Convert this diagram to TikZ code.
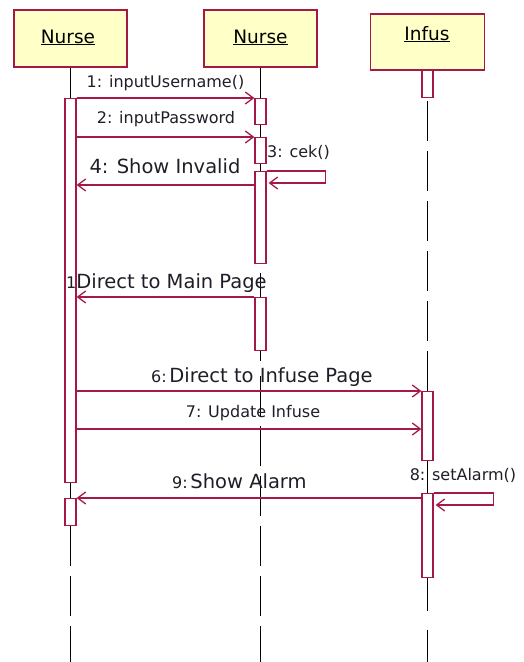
\documentclass[tikz,border=0pt]{standalone}
\usepackage{fontspec}
\setmainfont{DejaVu Sans}
\usepackage{tikz}
\usetikzlibrary{arrows.meta}

\definecolor{umlred}{RGB}{165,25,70}
\definecolor{umlyellow}{RGB}{255,255,200}
\definecolor{msgtext}{RGB}{30,30,40}

\newcommand{\smalltxt}{\fontsize{16}{18}\selectfont}
\newcommand{\bigtxt}{\fontsize{19.5}{22}\selectfont}

\begin{document}
\begin{tikzpicture}[x=1pt,y=-1pt,
        obj/.style={draw=umlred,fill=umlyellow,line width=1.6pt,minimum width=113pt,minimum height=57pt,inner sep=0pt},
        objtext/.style={anchor=base,inner sep=0pt,font=\fontsize{18.5}{20}\selectfont},
        act/.style={draw=umlred,fill=white,line width=1.3pt,minimum width=11pt,inner sep=0pt,anchor=north},
        lifeline/.style={line width=1.6pt},
        life/.style={lifeline,dash pattern=on 40pt off 10pt},
        msg/.style={umlred,line width=1.3pt,-{Straight Barb[length=8pt,width=12pt]}},
        lbl/.style={inner sep=0pt,text=msgtext,font=\smalltxt}]
        \useasboundingbox (0,0) rectangle (523,662);
        \coordinate (bottom) at (0,662);
        % objects
        \node[obj] (h1) at (70.5,38.5) {};
        \node[obj] (h2) at (260.5,38.5) {};
        \node[obj,minimum height=56pt,minimum width=114pt] (h3) at (427.5,42) {};
        \node[objtext] (t1) at (68,43) {\underline{Nurse}};
        \node[objtext] (t2) at (260.5,43) {\underline{Nurse}};
        \node[objtext] (t3) at (427,40) {\underline{Infus}};
        % activations
        \node[act,minimum height=384pt] (a1) at (70.5,98) {};
        \node[act,minimum height=27pt] (a2) at (70.5,498) {};
        \node[act,minimum height=26pt] (b1) at (260.5,98) {};
        \node[act,minimum height=26pt] (b2) at (260.5,137) {};
        \node[act,minimum height=92pt] (b3) at (260.5,171) {};
        \node[act,minimum height=53pt] (b4) at (260.5,297) {};
        \node[act,minimum height=27pt] (c0) at (427.5,70) {};
        \node[act,minimum height=69pt] (c1) at (427.5,391) {};
        \node[act,minimum height=84pt] (c2) at (427.5,493) {};
        % lifelines
        \draw[lifeline] (h1.south) -- (a1.north);
        \draw[lifeline] (a1.south) -- (a2.north);
        \draw[life] (a2.south) -- (a2.south |- bottom);
        \draw[lifeline] (h2.south) -- (b1.north);
        \draw[lifeline] (b1.south) -- (b2.north);
        \draw[lifeline] (b2.south) -- (b3.north);
        \draw[lifeline,dash pattern=on 0pt off 9pt on 40pt off 10pt] (b3.south) -- (b4.north);
        \draw[lifeline] (b4.south) -- ++(0,10);
        \draw[life] (b4.south) ++(0,25) -- (b4.south |- bottom);
        \draw[life] (c0.south) ++(0,3) -- (c1.north);
        \draw[lifeline] (c1.south) -- (c2.north);
        \draw[lifeline,dash pattern=on 33pt off 19pt] (c2.south) -- (c2.south |- bottom);
        % messages
        \draw[msg] (a1.north east) -- (b1.north west);
        \draw[msg] (a1.east |- b2.north) -- (b2.north west);
        \draw[msg] (b3.north east) -- ++(59,0) -- ++(0,12) -- ++(-57,0);
        \path (b3.north west) ++(0,14) coordinate (m4);
        \draw[msg] (m4) -- (a1.east |- m4);
        \draw[msg] (b4.north west) -- (a1.east |- b4.north);
        \draw[msg] (a1.east |- c1.north) -- (c1.north west);
        \path (c1.north west) ++(0,38) coordinate (m7);
        \draw[msg] (a1.east |- m7) -- (m7);
        \draw[msg] (c2.north east) -- ++(60,0) -- ++(0,12) -- ++(-58,0);
        \draw[msg] (c2.west |- a2.north) -- (a2.north east);
        % labels
        \node[lbl,anchor=base] (l1) at (165.5,87) {1: inputUsername()};
        \node[lbl,anchor=base] (l2) at (166,123) {2: inputPassword};
        \node[lbl,anchor=base west] (l3) at (267,157) {3: cek()};
        \node[lbl,anchor=base,font=\bigtxt] (l4) at (165,173) {4: Show Invalid};
        \node[lbl,anchor=base west] (l5) at (66,288) {1\bigtxt Direct to Main Page};
        \node[lbl,anchor=base west] (l6) at (151,382) {6:\,\bigtxt Direct to Infuse Page};
        \node[lbl,anchor=base] (l7) at (253,417) {7: Update Infuse};
        \node[lbl,anchor=base] (l8) at (463,480) {8: setAlarm()};
        \node[lbl,anchor=base west] (l9) at (172,488) {9:\,\bigtxt Show Alarm};
    \end{tikzpicture}
\end{document}
